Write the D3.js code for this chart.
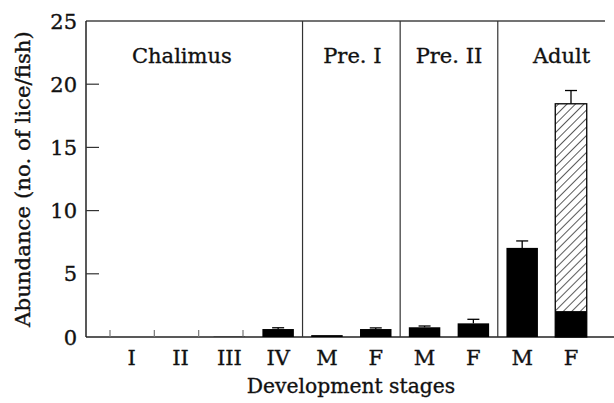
<!DOCTYPE html>
<html><head><meta charset="utf-8">
<script src="https://cdn.jsdelivr.net/npm/d3@7"></script>
<style>body{margin:0;background:#fff}svg{display:block}text{stroke:#111;stroke-width:0.35px}</style>
</head><body><svg id="c" width="614" height="403"></svg>
<script>
// ---- data ----
const categories = ["I","II","III","IV","M1","F1","M2","F2","M3","F3"];
const catLabels  = ["I","II","III","IV","M","F","M","F","M","F"];
const solidValues = [0, 0, 0.02, 0.63, 0.15, 0.63, 0.77, 1.08, 7.05, 2.05];
const totalValues = [0, 0, 0.02, 0.63, 0.15, 0.63, 0.77, 1.08, 7.05, 18.45];
const errorTops   = [null, null, null, 0.73, null, 0.72, 0.87, 1.4, 7.6, 19.5];
const sections = ["Chalimus","Pre. I","Pre. II","Adult"];
const sectionStart = ["I","M1","M2","M3"];
const sectionEnd   = ["IV","F1","F2","F3"];
const yTicks = [0,5,10,15,20,25];

// ---- layout ----
const svg = d3.select("#c");
const X0 = 86, X1 = 614, Y0 = 337, Y1 = 21;
const font = "'DejaVu Serif', serif";
const y = d3.scaleLinear().domain([0,25]).range([Y0,Y1]);
const x = d3.scaleBand().domain(categories).range([107.3,595.4]).paddingInner(0.355).paddingOuter(0.1775);
const step = x.step();

const defs = svg.append("defs");
const pat = defs.append("pattern").attr("id","hatch").attr("patternUnits","userSpaceOnUse")
  .attr("width",6).attr("height",6).attr("patternTransform","rotate(45)");
pat.append("rect").attr("width",6).attr("height",6).attr("fill","#fff");
pat.append("line").attr("x1",0).attr("y1",0).attr("x2",0).attr("y2",6).attr("stroke","#000").attr("stroke-width",1.3);

// frame
svg.append("line").attr("x1",X0).attr("x2",605).attr("y1",Y1).attr("y2",Y1).attr("stroke","#444").attr("stroke-width",1.3);
svg.append("line").attr("x1",X0).attr("x2",X1).attr("y1",Y0).attr("y2",Y0).attr("stroke","#222").attr("stroke-width",1.5);
svg.append("line").attr("x1",X0).attr("x2",X0).attr("y1",Y1).attr("y2",Y0).attr("stroke","#222").attr("stroke-width",1.5);

// y ticks
const yg = svg.append("g");
yg.selectAll("line.t").data(yTicks.filter(d=>d>0 && d<25)).join("line")
  .attr("x1",X0).attr("x2",X0+13).attr("y1",d=>y(d)).attr("y2",d=>y(d))
  .attr("stroke","#333").attr("stroke-width",1.2);
yg.selectAll("text").data(yTicks).join("text")
  .attr("x",77).attr("y",d=>y(d)+7.5).attr("text-anchor","end")
  .attr("font-family",font).attr("font-size",21).attr("fill","#111").text(d=>d);

// small x ticks in Chalimus section
const tx = d3.scalePoint().domain(categories.slice(0,4)).range([110,243]);
svg.selectAll("line.xt").data(categories.slice(0,4)).join("line")
  .attr("x1",d=>tx(d)).attr("x2",d=>tx(d))
  .attr("y1",Y0).attr("y2",Y0-7).attr("stroke","#777").attr("stroke-width",1.2);

// section dividers
const dividers = sectionEnd.slice(0,3).map((e,i)=>(x(e)+x.bandwidth()+x(sectionStart[i+1]))/2);
svg.selectAll("line.div").data(dividers).join("line")
  .attr("x1",d=>d).attr("x2",d=>d).attr("y1",Y1).attr("y2",Y0).attr("stroke","#333").attr("stroke-width",1.2);

// section labels
const labelShift = [-23, 1, 0, 15];
svg.selectAll("text.sec").data(sections).join("text")
  .attr("x",(d,i)=>(x(sectionStart[i])+x(sectionEnd[i])+x.bandwidth())/2+labelShift[i])
  .attr("y",63).attr("text-anchor","middle")
  .attr("font-family",font).attr("font-size",21).attr("fill","#111").text(d=>d);

// bars: hatched totals then solid
const bw = x.bandwidth();
svg.selectAll("rect.tot").data(categories.map((c,i)=>({c,v:totalValues[i],s:solidValues[i]})).filter(d=>d.v>d.s)).join("rect")
  .attr("x",d=>x(d.c)).attr("width",bw).attr("y",d=>y(d.v)).attr("height",d=>y(0)-y(d.v))
  .attr("fill","url(#hatch)").attr("stroke","#000").attr("stroke-width",1.3);
svg.selectAll("rect.sol").data(categories.map((c,i)=>({c,v:solidValues[i]})).filter(d=>d.v>0)).join("rect")
  .attr("x",d=>x(d.c)).attr("width",bw).attr("y",d=>y(d.v)).attr("height",d=>y(0)-y(d.v))
  .attr("fill","#000");

// error bars
const errs = categories.map((c,i)=>({c,top:totalValues[i],e:errorTops[i]})).filter(d=>d.e!=null);
const eg = svg.append("g").attr("stroke","#000").attr("stroke-width",1.3);
eg.selectAll("line.v").data(errs).join("line")
  .attr("x1",d=>x(d.c)+bw/2).attr("x2",d=>x(d.c)+bw/2).attr("y1",d=>y(d.top)).attr("y2",d=>y(d.e));
eg.selectAll("line.h").data(errs).join("line")
  .attr("x1",d=>x(d.c)+bw/2-6).attr("x2",d=>x(d.c)+bw/2+6).attr("y1",d=>y(d.e)).attr("y2",d=>y(d.e));

// category labels
svg.selectAll("text.cat").data(categories).join("text")
  .attr("x",d=>x(d)+bw/2).attr("y",364.5).attr("text-anchor","middle")
  .attr("font-family",font).attr("font-size",21).attr("fill","#111").text((d,i)=>catLabels[i]);

// axis titles
svg.append("text").attr("x",351).attr("y",393).attr("text-anchor","middle")
  .attr("font-family",font).attr("font-size",20.3).attr("fill","#111").text("Development stages");
svg.append("text").attr("transform","translate(30,179) rotate(-90)").attr("text-anchor","middle")
  .attr("font-family",font).attr("font-size",21.3).attr("fill","#111").text("Abundance (no. of lice/fish)");
</script></body></html>
